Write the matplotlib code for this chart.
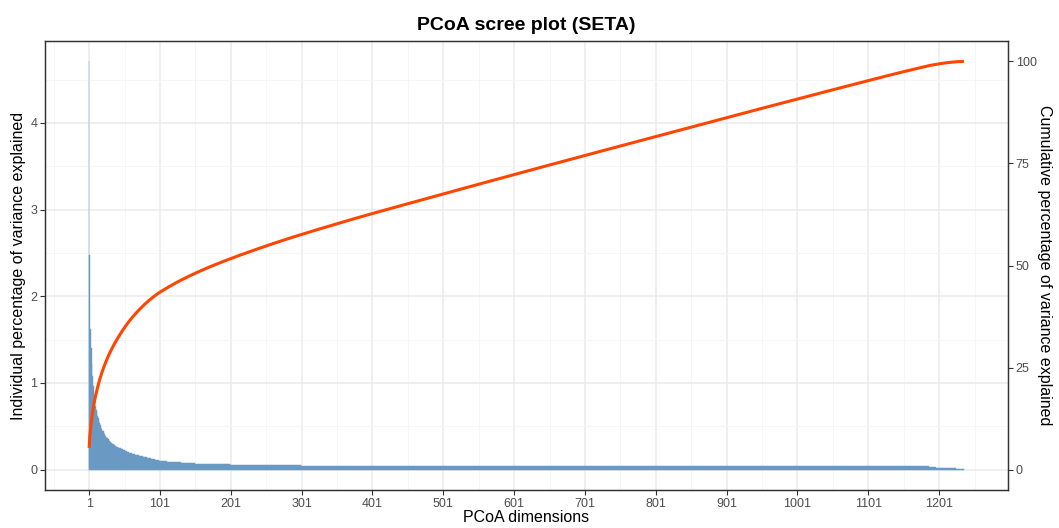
import numpy as np
import matplotlib
matplotlib.use("Agg")
import matplotlib.pyplot as plt
from matplotlib.ticker import MultipleLocator, FixedLocator

plt.rcParams['font.family'] = ['Liberation Sans', 'DejaVu Sans']

# individual % of variance, first 100 dimensions read bar by bar
head_pct = [4.71, 2.48, 1.62, 1.40, 1.22, 1.08, 0.97, 0.88, 0.80, 0.73,
            0.69, 0.66, 0.62, 0.59, 0.56, 0.54, 0.51, 0.49, 0.47, 0.45,
            0.44, 0.42, 0.41, 0.39, 0.38, 0.37, 0.36, 0.35, 0.34, 0.33,
            0.32, 0.31, 0.305, 0.30, 0.29, 0.285, 0.28, 0.275, 0.27, 0.265,
            0.262, 0.258, 0.254, 0.25, 0.246, 0.242, 0.238, 0.234, 0.23, 0.226,
            0.222, 0.218, 0.214, 0.21, 0.206, 0.203, 0.2, 0.197, 0.194, 0.191,
            0.188, 0.185, 0.182, 0.179, 0.176, 0.174, 0.172, 0.17, 0.168, 0.166,
            0.163, 0.16, 0.158, 0.156, 0.154, 0.152, 0.15, 0.148, 0.146, 0.144,
            0.142, 0.14, 0.138, 0.136, 0.134, 0.132, 0.13, 0.128, 0.126, 0.124,
            0.122, 0.12, 0.118, 0.116, 0.114, 0.112, 0.11, 0.108, 0.106, 0.104]

# rest of the bars read as flat blocks: (number of dimensions, value)
tail_blocks = [(10, 0.095), (10, 0.088), (10, 0.082), (10, 0.077), (10, 0.073),
               (10, 0.069), (10, 0.066), (10, 0.063), (10, 0.061), (10, 0.059),
               (10, 0.057), (10, 0.056), (10, 0.055), (10, 0.054), (10, 0.053),
               (10, 0.052), (10, 0.051), (10, 0.050), (10, 0.049), (10, 0.048),
               (25, 0.047), (25, 0.046), (25, 0.045), (25, 0.044),
               (100, 0.0425), (100, 0.042), (100, 0.0415), (100, 0.041),
               (100, 0.041), (100, 0.0405), (100, 0.040),
               (43, 0.039), (43, 0.037),
               (10, 0.028), (10, 0.024), (10, 0.020), (8, 0.015),
               (6, 0.010), (4, 0.006), (2, 0.003)]

ind_pct = list(head_pct)
for cnt, val in tail_blocks:
    ind_pct += [val] * cnt
ind_pct = np.array(ind_pct)
dims = np.arange(1, len(ind_pct) + 1)

# cumulative % (line on the secondary axis)
cum_pct = np.cumsum(ind_pct) / ind_pct.sum() * 100

xticks = list(range(1, 1202, 100))

bar_col = '#6A9AC4'
line_col = '#FF4500'
grid_major = '#EBEBEB'
grid_minor = '#F5F5F5'
dark = '#333333'
tick_txt = '#4D4D4D'

fig = plt.figure(figsize=(10.59, 5.28), dpi=100)
ax = fig.add_axes([45/1059, 1 - 490/528, (1008-45)/1059, (490-41)/528])

n = len(dims)
w = (n + 0.45) - 0.55
ax.set_xlim(0.55 - 0.05*w, n + 0.45 + 0.05*w)
mx = ind_pct.max()
ax.set_ylim(-0.05*mx, 1.05*mx)

ax.bar(dims, ind_pct, width=1.0, color=bar_col, edgecolor=bar_col,
       linewidth=0.3, zorder=2)

ax.xaxis.set_major_locator(FixedLocator(xticks))
ax.xaxis.set_minor_locator(FixedLocator([t - 50 for t in xticks] + [1251]))
ax.yaxis.set_major_locator(MultipleLocator(1))
ax.yaxis.set_minor_locator(MultipleLocator(0.5))
ax.grid(which='major', color=grid_major, lw=1.1, zorder=0)
ax.grid(which='minor', color=grid_minor, lw=0.6, zorder=0)
ax.set_axisbelow(True)
ax.tick_params(which='minor', length=0)
ax.tick_params(which='major', length=3.5, width=0.8, color=dark,
               labelcolor=tick_txt, labelsize=9, pad=2)

ax2 = ax.twinx()
ax2.set_ylim(ax.get_ylim()[0]*100/mx, ax.get_ylim()[1]*100/mx)
ax2.plot(dims, cum_pct, color=line_col, lw=2.2, solid_capstyle='butt')
ax2.yaxis.set_major_locator(FixedLocator([0, 25, 50, 75, 100]))
ax2.tick_params(length=3.5, width=0.8, color=dark,
                labelcolor=tick_txt, labelsize=9, pad=2)

for a in (ax, ax2):
    for s in a.spines.values():
        s.set_color(dark)
        s.set_linewidth(0.9)

ax.set_xlabel("PCoA dimensions", fontsize=11.5, labelpad=0)
ax.set_ylabel("Individual percentage of variance explained", fontsize=11.5, labelpad=3)
ax2.set_ylabel("Cumulative percentage of variance explained", fontsize=11.5,
               rotation=270, labelpad=11)
ax.set_title("PCoA scree plot (SETA)", fontsize=14, fontweight='bold', pad=8)

fig.savefig("out.png", dpi=100)
